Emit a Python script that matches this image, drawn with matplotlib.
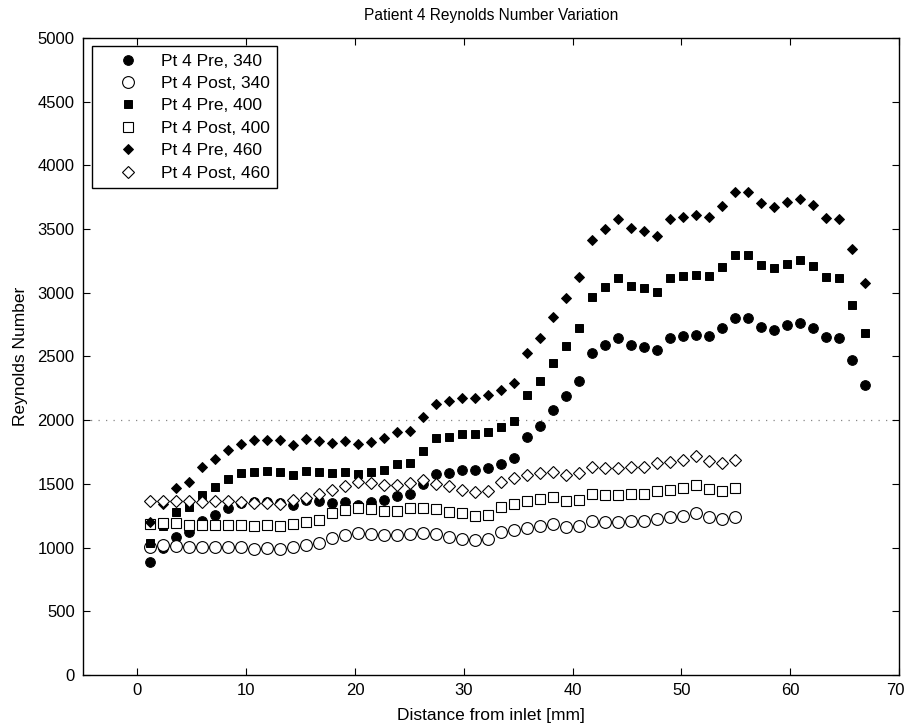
import matplotlib
matplotlib.use("Agg")
import matplotlib.pyplot as plt
from matplotlib.transforms import ScaledTranslation

plt.rcParams['font.family'] = ['Liberation Sans', 'DejaVu Sans']

# Distance from inlet [mm]
x = [1.13, 2.33, 3.52, 4.72, 5.91, 7.11, 8.30, 9.50, 10.69, 11.89, 13.08, 14.28,
     15.47, 16.67, 17.86, 19.06, 20.25, 21.45, 22.64, 23.84, 25.03, 26.23, 27.42,
     28.62, 29.81, 31.01, 32.20, 33.40, 34.59, 35.79, 36.98, 38.18, 39.37, 40.57,
     41.76, 42.96, 44.15, 45.35, 46.54, 47.74, 48.93, 50.13, 51.32, 52.52, 53.71,
     54.91, 56.10, 57.30, 58.49, 59.69, 60.88, 62.08, 63.27, 64.47, 65.66, 66.86]

pre_340 = [888, 997, 1086, 1122, 1206, 1258, 1310, 1346, 1357, 1357, 1352, 1336,
           1370, 1362, 1346, 1359, 1336, 1357, 1375, 1404, 1419, 1497, 1578, 1586,
           1607, 1612, 1622, 1654, 1701, 1865, 1956, 2081, 2190, 2310, 2523, 2586,
           2643, 2591, 2575, 2547, 2643, 2659, 2669, 2661, 2721, 2800, 2800, 2732,
           2711, 2745, 2763, 2724, 2651, 2643, 2469, 2273]
pre_400 = [1039, 1172, 1281, 1320, 1414, 1477, 1539, 1583, 1594, 1599, 1594, 1570,
           1604, 1594, 1583, 1596, 1576, 1591, 1612, 1656, 1664, 1758, 1857, 1867,
           1888, 1888, 1904, 1945, 1997, 2195, 2305, 2445, 2581, 2721, 2968, 3047,
           3112, 3055, 3034, 3003, 3112, 3128, 3141, 3133, 3200, 3294, 3294, 3216,
           3193, 3227, 3253, 3206, 3122, 3112, 2906, 2680]
pre_460 = [1201, 1341, 1471, 1513, 1630, 1698, 1768, 1815, 1841, 1841, 1841, 1808,
           1854, 1833, 1820, 1836, 1810, 1831, 1862, 1904, 1914, 2023, 2130, 2150,
           2174, 2174, 2195, 2237, 2294, 2523, 2648, 2812, 2961, 3125, 3414, 3502,
           3575, 3508, 3487, 3445, 3575, 3594, 3607, 3594, 3680, 3789, 3789, 3700,
           3672, 3711, 3737, 3685, 3586, 3575, 3341, 3075]
post_340 = [1008, 1018, 1010, 1003, 1003, 1003, 1003, 1003, 992, 997, 992, 1008,
            1018, 1034, 1076, 1102, 1117, 1107, 1096, 1096, 1109, 1117, 1107, 1086,
            1070, 1060, 1070, 1120, 1141, 1154, 1169, 1185, 1159, 1167, 1208, 1201,
            1201, 1206, 1211, 1227, 1237, 1247, 1268, 1242, 1227, 1242]
post_400 = [1185, 1190, 1190, 1180, 1180, 1180, 1180, 1180, 1169, 1175, 1169, 1185,
            1201, 1216, 1268, 1294, 1310, 1300, 1289, 1289, 1307, 1310, 1302, 1282,
            1268, 1247, 1258, 1315, 1341, 1362, 1380, 1393, 1367, 1375, 1420, 1411,
            1411, 1419, 1419, 1445, 1453, 1471, 1492, 1461, 1445, 1466]
post_460 = [1367, 1367, 1367, 1367, 1357, 1367, 1367, 1357, 1346, 1346, 1341, 1370,
            1388, 1419, 1451, 1487, 1513, 1503, 1492, 1492, 1508, 1529, 1497, 1480,
            1453, 1435, 1445, 1513, 1544, 1570, 1589, 1596, 1570, 1583, 1635, 1622,
            1628, 1630, 1635, 1661, 1674, 1690, 1721, 1680, 1661, 1685]

labels = ["Pt 4 Pre, 340", "Pt 4 Post, 340", "Pt 4 Pre, 400",
          "Pt 4 Post, 400", "Pt 4 Pre, 460", "Pt 4 Post, 460"]
threshold = 2000
xticks = [0, 10, 20, 30, 40, 50, 60, 70]
yticks = [0, 500, 1000, 1500, 2000, 2500, 3000, 3500, 4000, 4500, 5000]

fig = plt.figure(figsize=(9.06, 7.27), dpi=100)
ax = fig.add_axes([0.0916, 0.0715, 0.9006, 0.8765])

xp = x[:len(post_340)]
ax.plot(x, pre_340, 'o', color='black', ms=7, mew=0.7, label=labels[0])
ax.plot(xp, post_340, 'o', mfc='white', mec='black', ms=8.5, mew=0.8, label=labels[1])
ax.plot(x, pre_400, 's', color='black', ms=6, mew=0.7, label=labels[2])
ax.plot(xp, post_400, 's', mfc='white', mec='black', ms=7, mew=0.8, label=labels[3])
ax.plot(x, pre_460, 'D', color='black', ms=5.5, mew=0.7, label=labels[4])
ax.plot(xp, post_460, 'D', mfc='white', mec='black', ms=6.3, mew=0.8, label=labels[5])

ax.axhline(threshold, color='#888888', linestyle=(0, (1, 5)), linewidth=0.9, zorder=0)

ax.set_xlim(-5, 70)
ax.set_ylim(0, 5000)
ax.set_xticks(xticks)
ax.set_yticks(yticks)
ax.tick_params(direction='in', top=True, right=True, length=5, width=0.8,
               labelsize=12, pad=6)
for s in ax.spines.values():
    s.set_linewidth(1.0)

# keep the last x tick label inside the canvas
for lab in ax.get_xticklabels():
    if lab.get_text() == "70":
        lab.set_transform(lab.get_transform() +
                          ScaledTranslation(-4 / 100, 0, fig.dpi_scale_trans))

ax.set_xlabel("Distance from inlet [mm]", fontsize=12.5, labelpad=7)
ax.set_ylabel("Reynolds Number", fontsize=12.5, labelpad=7)
ax.set_title("Patient 4 Reynolds Number Variation", fontsize=11.2, pad=13)

leg = ax.legend(loc='upper left', fontsize=12.5, frameon=True, fancybox=False,
                edgecolor='black', framealpha=1, borderpad=0.4, labelspacing=0.42,
                handletextpad=0.2, handlelength=3.4, borderaxespad=0.5)
leg.get_frame().set_linewidth(1.0)

fig.savefig("out.png", dpi=100)
